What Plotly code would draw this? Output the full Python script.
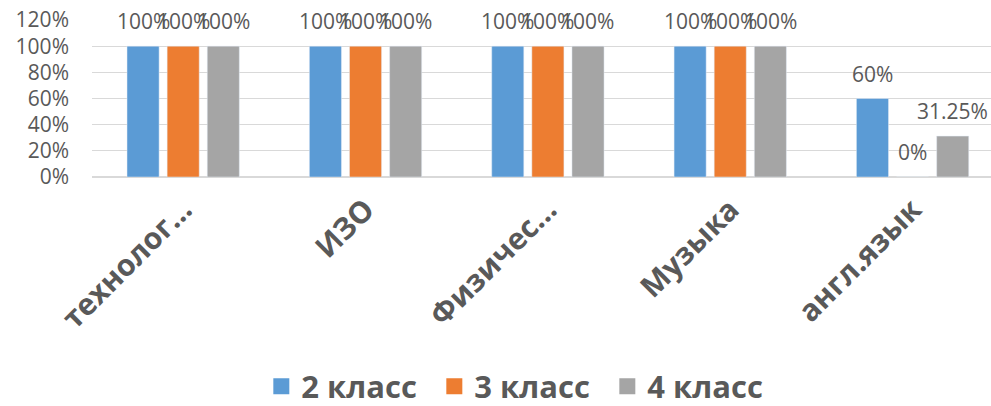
import plotly.graph_objects as go

categories = ["технолог...", "ИЗО", "Физичес...", "Музыка", "англ.язык"]
series_names = ["2 класс", "3 класс", "4 класс"]
values_2 = [1.0, 1.0, 1.0, 1.0, 0.60]
values_3 = [1.0, 1.0, 1.0, 1.0, 0.0]
values_4 = [1.0, 1.0, 1.0, 1.0, 0.3125]
label_2 = ["100%", "100%", "100%", "100%", "60%"]
label_3 = ["100%", "100%", "100%", "100%", "0%"]
label_4 = ["100%", "100%", "100%", "100%", "31.25%"]
y_ticks = [0, 0.2, 0.4, 0.6, 0.8, 1.0, 1.2]
y_tick_text = ["0%", "20%", "40%", "60%", "80%", "100%", "120%"]

colors = ["#5B9BD5", "#ED7D31", "#A5A5A5"]
text_color = "#595959"
font_family = "Open Sans, DejaVu Sans, sans-serif"

fig = go.Figure()
all_vals = [values_2, values_3, values_4]
all_labels = [label_2, label_3, label_4]
for name, vals, col in zip(series_names, all_vals, colors):
    fig.add_trace(go.Bar(x=categories, y=vals, name=name, marker_color=col,
                         showlegend=False, hoverinfo="skip"))
    # legend-only marker
    fig.add_trace(go.Scatter(x=[None], y=[None], mode="markers", name=name,
                             marker=dict(symbol="square", size=20, color=col)))

shifts = [-40, 0, 40]
for vals, labs, sh in zip(all_vals, all_labels, shifts):
    for c, v, t in zip(categories, vals, labs):
        fig.add_annotation(x=c, y=v, text=t, showarrow=False, xshift=sh, yshift=25,
                           yanchor="middle", font=dict(size=21, color=text_color, family=font_family))

fig.update_layout(
    width=991, height=406,
    margin=dict(l=92, r=0, t=20, b=229, autoexpand=False),
    paper_bgcolor="white", plot_bgcolor="white",
    barmode="group", bargap=0.34, bargroupgap=0.2,
    font=dict(family=font_family, color=text_color),
    legend=dict(orientation="h", x=0.477, xanchor="center", yref="container", y=0.048,
                yanchor="middle", entrywidth=128,
                font=dict(size=31, color=text_color, family=font_family, weight="bold"),
                itemsizing="trace"),
)
fig.update_xaxes(range=[-0.5, 4.43], tickangle=-45, showgrid=False, showline=False,
                 ticks="", automargin=False, ticklabelstandoff=8,
                 tickfont=dict(size=30, color=text_color, family=font_family, weight="bold"))
fig.update_yaxes(range=[0, 1.2], tickvals=y_ticks, ticktext=y_tick_text, showgrid=True,
                 gridcolor="#D9D9D9", gridwidth=1, zeroline=True, zerolinecolor="#D9D9D9",
                 showline=False, ticks="", ticklabelstandoff=22, automargin=False,
                 tickfont=dict(size=21, color=text_color, family=font_family))

fig.write_html("out.html", config={"displayModeBar": False},
               post_script="document.body.style.margin='0';")
